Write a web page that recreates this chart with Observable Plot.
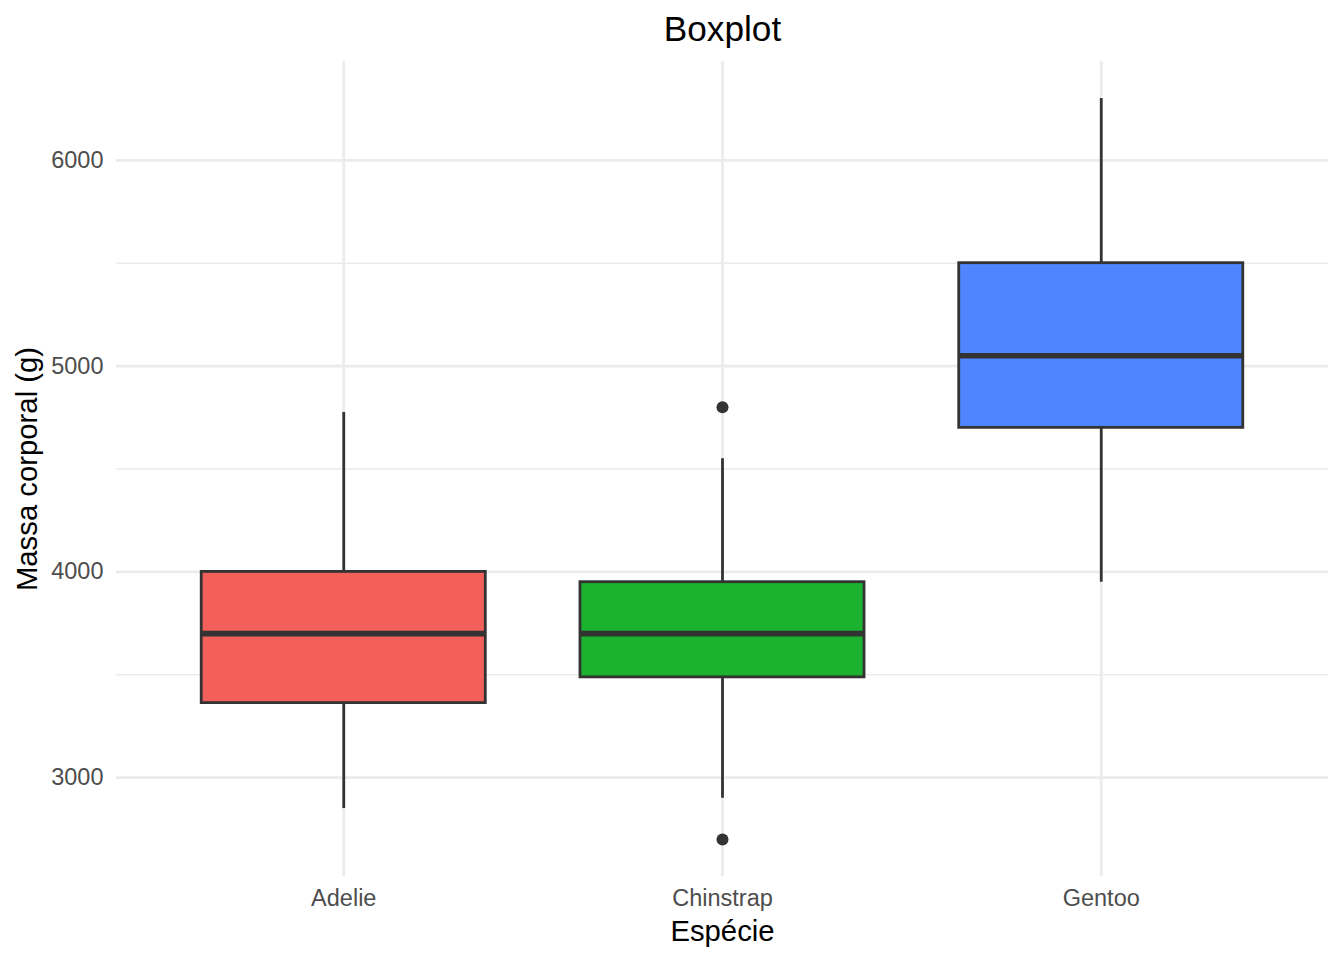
<!DOCTYPE html>
<html>
<head>
<meta charset="utf-8">
<script src="https://cdn.jsdelivr.net/npm/d3@7"></script>
<script src="https://cdn.jsdelivr.net/npm/@observablehq/plot@0.6"></script>
<style>
  html, body { margin: 0; padding: 0; background: #fff; }
</style>
</head>
<body>
<div id="chart"></div>
<script>
const species = ["Adelie", "Chinstrap", "Gentoo"];
const q1 = [3362.5, 3487.5, 4700];
const medians = [3700, 3700, 5050];
const q3 = [4000, 3950, 5500];
const whiskerLow = [2850, 2900, 3950];
const whiskerHigh = [4775, 4550, 6300];
const fills = ["#F35F5A", "#1AB22F", "#4F85FF"];
const outlierSpecies = ["Chinstrap", "Chinstrap"];
const outlierValues = [4800, 2700];
const majorTicks = [3000, 4000, 5000, 6000];
const minorTicks = [3500, 4500, 5500];

const table = species.map((s, i) => ({
  species: s, q1: q1[i], median: medians[i], q3: q3[i],
  lo: whiskerLow[i], hi: whiskerHigh[i], fill: fills[i]
}));
const outliers = outlierSpecies.map((s, i) => ({species: s, value: outlierValues[i]}));

const ink = "#333333";
const grid = "#EBEBEB";

const chart = Plot.plot({
  width: 1344,
  height: 960,
  marginLeft: 116,
  marginRight: 16,
  marginTop: 61,
  marginBottom: 84,
  style: {fontFamily: "'Liberation Sans', Arial, Helvetica, sans-serif", background: "#fff"},
  x: {type: "band", domain: species, paddingInner: 0.25, paddingOuter: 0.225, align: 0.5, round: false},
  y: {domain: [2520, 6480]},
  marks: [
    Plot.ruleY(minorTicks, {stroke: grid, strokeWidth: 1.4}),
    Plot.ruleY(majorTicks, {stroke: grid, strokeWidth: 2.7}),
    Plot.ruleX(species, {x: d => d, stroke: grid, strokeWidth: 2.7}),
    Plot.ruleX(table, {x: "species", y1: "lo", y2: "q1", stroke: ink, strokeWidth: 2.8}),
    Plot.ruleX(table, {x: "species", y1: "q3", y2: "hi", stroke: ink, strokeWidth: 2.8}),
    Plot.barY(table, {x: "species", y1: "q1", y2: "q3", fill: d => d.fill, stroke: ink, strokeWidth: 2.8}),
    Plot.tickY(table, {x: "species", y: "median", stroke: ink, strokeWidth: 5.6}),
    Plot.dot(outliers, {x: "species", y: "value", r: 6, fill: ink, stroke: "none"}),
    Plot.axisY({ticks: majorTicks, tickSize: 0, tickPadding: 13, fontSize: 23.5, fill: "#4D4D4D", label: null, tickFormat: d => String(d)}),
    Plot.axisX({tickSize: 0, tickPadding: 13, fontSize: 23.5, fill: "#4D4D4D", label: null}),
    Plot.text(["Espécie"], {text: d => d, frameAnchor: "bottom", lineAnchor: "middle", textAnchor: "middle", dy: 55, fontSize: 29.3, fill: "#000"}),
    Plot.text(["Massa corporal (g)"], {text: d => d, frameAnchor: "left", lineAnchor: "middle", textAnchor: "middle", dx: -89, rotate: -90, fontSize: 29.3, fill: "#000"}),
    Plot.text(["Boxplot"], {text: d => d, frameAnchor: "top", lineAnchor: "middle", textAnchor: "middle", dy: -32, fontSize: 35.2, fill: "#000"})
  ]
});
document.getElementById("chart").appendChild(chart);
</script>
</body>
</html>
